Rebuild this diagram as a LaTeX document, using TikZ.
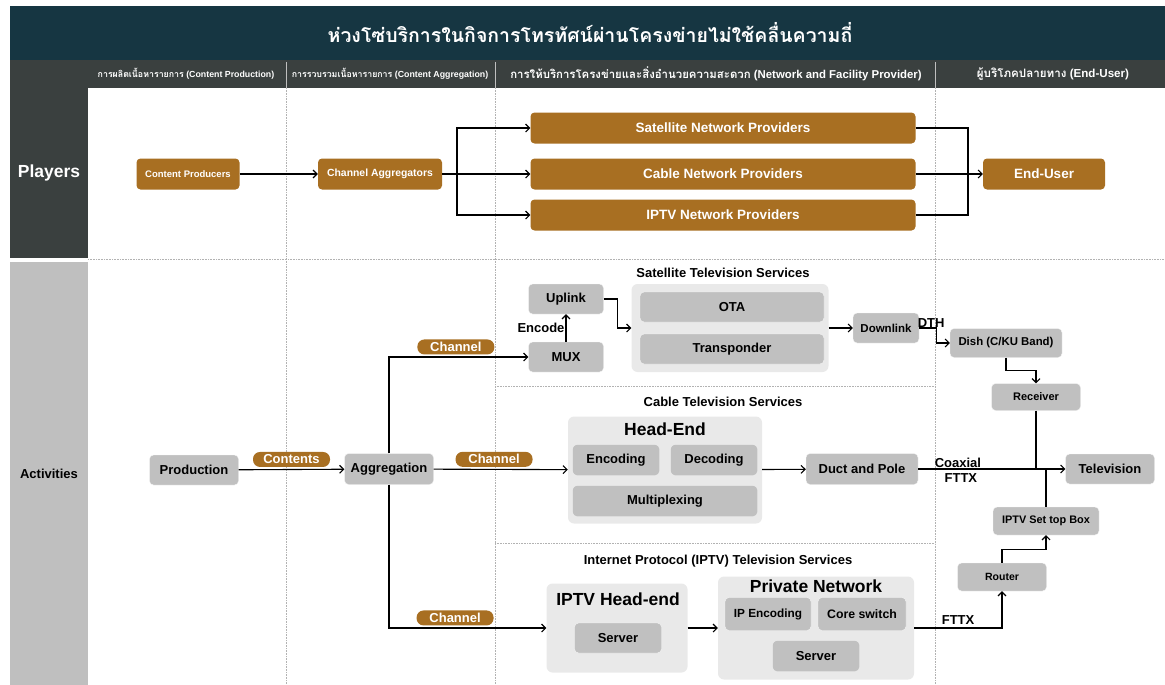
\documentclass[tikz,border=0pt]{standalone}
\usepackage{fontspec}
\setmainfont{Liberation Sans}
\newfontfamily\thaifont[Script=Thai]{Loma}
\usetikzlibrary{arrows.meta}
\definecolor{ttl}{HTML}{163642}
\definecolor{hdr}{HTML}{3A403F}
\definecolor{lftgrey}{HTML}{BFBFBF}
\definecolor{brn}{HTML}{A86F22}
\definecolor{boxgrey}{HTML}{C0C0C0}
\definecolor{pnl}{HTML}{E9E9E9}
\newcommand{\fsz}[1]{\fontsize{#1}{#1}\selectfont}
\newcommand{\colhd}[2]{{\thaifont\bfseries #1} \textbf{(#2)}}

\begin{document}
\begin{tikzpicture}[x=1pt, y=-1pt, pbox/.style={fill=brn, rounded corners=4pt, text=white, minimum height=31pt, inner sep=0pt}, gbox/.style={fill=boxgrey, draw=white!85!boxgrey, rounded corners=4pt, font=\bfseries\fsz{13}, inner sep=0pt}, panel/.style={fill=pnl, rounded corners=6pt, inner sep=0pt}, pill/.style={fill=brn, rounded corners=7pt, text=white, font=\bfseries\fsz{13}, minimum width=77pt, minimum height=15pt, inner sep=0pt}, lbl/.style={font=\bfseries\fsz{13}, inner sep=1pt}, sec/.style={font=\bfseries\fsz{13}}, ptitle/.style={font=\bfseries\fsz{17.5}}, colhead/.style={text=white}, n/.style={-{Straight Barb[length=4pt,width=8pt]}, line width=1.1pt}, link/.style={line width=1.1pt}, sep/.style={draw=gray!60, densely dotted, line width=0.6pt}]
            \useasboundingbox (0,0) rectangle (1165,685);
            % bands
            \fill[ttl] (10,6) rectangle (1165,60);
            \fill[hdr] (10,60) rectangle (1165,88);
            \fill[hdr] (10,88) rectangle (88,258);
            \fill[lftgrey] (10,262) rectangle (88,685);
            \node[text=white, font=\thaifont\bfseries\fsz{19.5}] (title) at (590,33) {ห่วงโซ่บริการในกิจการโทรทัศน์ผ่านโครงข่ายไม่ใช้คลื่นความถี่};
            \node[colhead, font=\fsz{8.8}] (hprod) at (186,74) {\colhd{การผลิตเนื้อหารายการ}{Content Production}};
            \node[colhead, font=\fsz{8.8}] (hagg) at (390,74) {\colhd{การรวบรวมเนื้อหารายการ}{Content Aggregation}};
            \node[colhead, font=\fsz{11.4}] (hnet) at (716,74) {\colhd{การให้บริการโครงข่ายและสิ่งอำนวยความสะดวก}{Network and Facility Provider}};
            \node[colhead, font=\fsz{11.6}] (huser) at (1053,74) {\colhd{ผู้บริโภคปลายทาง}{End-User}};
            \node[text=white, font=\bfseries\fsz{17.5}] (players) at (49,173) {Players};
            \node[font=\bfseries\fsz{13}] (activities) at (49,474) {Activities};
            % separators
            \foreach \x in {286,495,935} {
                \draw[gray!50, line width=0.6pt] (\x,62) -- (\x,88);
                \draw[sep] (\x,88) -- (\x,685);
            }
            \draw[sep] (88,259) -- (1165,259);
            \draw[sep] (495,386) -- (935,386);
            \draw[sep] (495,543) -- (935,543);
            % players
            \node[pbox, minimum width=103pt, font=\bfseries\fsz{9.5}] (cprod) at (188,174) {Content Producers};
            \node[pbox, minimum width=124pt, font=\bfseries\fsz{10.4}] (cagg) at (380,174) {Channel Aggregators};
            \node[pbox, minimum width=385pt, font=\bfseries\fsz{13.5}] (satnp) at (723,128) {Satellite Network Providers};
            \node[pbox, minimum width=385pt, font=\bfseries\fsz{13.5}] (cabnp) at (723,174) {Cable Network Providers};
            \node[pbox, minimum width=385pt, font=\bfseries\fsz{13.5}] (iptvnp) at (723,215) {IPTV Network Providers};
            \node[pbox, minimum width=122pt, font=\bfseries\fsz{13.5}] (enduser) at (1044,174) {End-User};
            \coordinate (split) at (457,174);
            \coordinate (merge) at (968,174);
            \draw[n] (cprod) -- (cagg);
            \draw[link] (cagg.east) -- (split);
            \draw[n] (split) |- (satnp.west);
            \draw[n] (split) -- (cabnp.west);
            \draw[n] (split) |- (iptvnp.west);
            \draw[link] (satnp.east) -| (merge);
            \draw[link] (iptvnp.east) -| (merge);
            \draw[n] (cabnp.east) -- (enduser.west);
            % satellite services
            \node[sec] (sattitle) at (723,273) {Satellite Television Services};
            \node[gbox, minimum width=75pt, minimum height=30pt] (uplink) at (566,299) {Uplink};
            \node[gbox, minimum width=75pt, minimum height=30pt] (mux) at (566,357) {MUX};
            \node[panel, minimum width=197pt, minimum height=88pt] (satpanel) at (730,328) {};
            \node[gbox, minimum width=184pt, minimum height=30pt] (ota) at (732,307) {OTA};
            \node[gbox, minimum width=184pt, minimum height=30pt] (transp) at (732,349) {Transponder};
            \node[gbox, minimum width=66pt, minimum height=30pt, font=\bfseries\fsz{11.5}] (downlink) at (886,328) {Downlink};
            \node[gbox, minimum width=112pt, minimum height=29pt, font=\bfseries\fsz{11.4}] (dish) at (1006,343) {Dish (C/KU Band)};
            \node[gbox, minimum width=89pt, minimum height=27pt, font=\bfseries\fsz{11}] (receiver) at (1036,397) {Receiver};
            \draw[n] (mux) -- (uplink) node[lbl, midway, left] {Encode};
            \draw[n] (uplink.east) -- ++(14,0) |- (satpanel.west);
            \draw[n] (satpanel) -- (downlink);
            \draw[n] (downlink.east) -- ++(17,0) node[lbl, anchor=south, xshift=-5pt, inner sep=0pt] {DTH} |- (dish.west);
            \draw[n] (dish.south) -- ++(0,13) -| (receiver.north);
            % cable services
            \node[sec] (cabtitle) at (723,402) {Cable Television Services};
            \node[gbox, minimum width=89pt, minimum height=30pt] (production) at (194,470) {Production};
            \node[gbox, minimum width=89pt, minimum height=31pt] (aggregation) at (389,469) {Aggregation};
            \node[panel, minimum width=194pt, minimum height=107pt] (headend) at (665,470) {};
            \node[ptitle] (hetitle) at (665,429) {Head-End};
            \node[gbox, minimum width=87pt, minimum height=31pt] (encoding) at (616,460) {Encoding};
            \node[gbox, minimum width=87pt, minimum height=31pt] (decoding) at (714,460) {Decoding};
            \node[gbox, minimum width=185pt, minimum height=31pt] (mplex) at (665,501) {Multiplexing};
            \node[gbox, minimum width=112pt, minimum height=31pt] (duct) at (862,469) {Duct and Pole};
            \node[gbox, minimum width=89pt, minimum height=30pt] (tv) at (1110,469) {Television};
            \node[gbox, minimum width=106pt, minimum height=28pt, font=\bfseries\fsz{10.9}] (stb) at (1046,521) {IPTV Set top Box};
            \node[gbox, minimum width=89pt, minimum height=28pt, font=\bfseries\fsz{10.5}] (router) at (1002,577) {Router};
            \draw[n] (production) -- (aggregation) node[pill, midway, above=2pt] {Contents};
            \draw[n] (aggregation) -- (headend) node[pill, pos=0.45, above=2pt] {Channel};
            \draw[n] (headend) -- (duct);
            \draw[n] (duct) -- (tv) node[lbl, pos=0.27, above] {Coaxial} node[lbl, pos=0.29, below=3pt] {FTTX};
            \draw[link] (receiver.south) -- (receiver.south |- tv.west);
            \draw[link] (stb.north) -- (stb.north |- tv.west);
            \draw[n] (router.north) -- ++(0,-13) -| (stb.south);
            % iptv services
            \node[sec] (iptvtitle) at (718,561) {Internet Protocol (IPTV) Television Services};
            \node[panel, minimum width=141pt, minimum height=89pt] (iptvhe) at (617,628) {};
            \node[ptitle] (ihetitle) at (618,599) {IPTV Head-end};
            \node[gbox, minimum width=87pt, minimum height=30pt] (server1) at (618,638) {Server};
            \node[panel, minimum width=196pt, minimum height=103pt] (privnet) at (816,628) {};
            \node[ptitle] (pntitle) at (816,586) {Private Network};
            \node[gbox, minimum width=86pt, minimum height=33pt, font=\bfseries\fsz{11.8}] (ipenc) at (768,614) {IP Encoding};
            \node[gbox, minimum width=88pt, minimum height=33pt, font=\bfseries\fsz{12.3}] (coresw) at (862,614) {Core switch};
            \node[gbox, minimum width=87pt, minimum height=31pt] (server2) at (816,656) {Server};
            \draw[n] (aggregation.north) |- (mux.west) node[pill, pos=0.74, above=2pt] {Channel};
            \draw[n] (aggregation.south) |- (iptvhe.west) node[pill, pos=0.71, above=2pt] {Channel};
            \draw[n] (iptvhe) -- (privnet);
            \draw[n] (privnet.east) -| (router.south) node[lbl, pos=0.25, above=2pt] {FTTX};
        \end{tikzpicture}
\end{document}
